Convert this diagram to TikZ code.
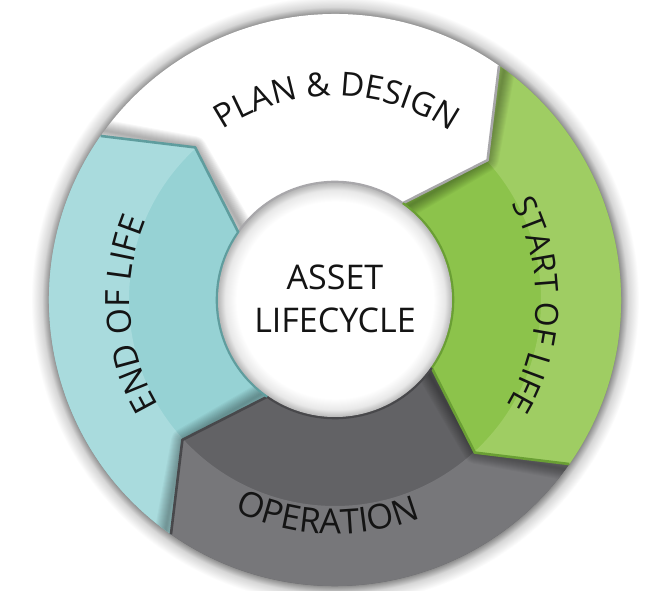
\documentclass[tikz,border=0pt]{standalone}
\usepackage{fontspec}
\setmainfont{Open Sans}
\usetikzlibrary{decorations.text}
\definecolor{tealL}{HTML}{A9DBDD}
\definecolor{tealD}{HTML}{96D2D4}
\definecolor{tealE}{HTML}{5F9D9E}
\definecolor{greenL}{HTML}{9FCD63}
\definecolor{greenD}{HTML}{8CC34B}
\definecolor{greenE}{HTML}{6A9F34}
\definecolor{grayL}{HTML}{77777A}
\definecolor{grayD}{HTML}{626265}
\definecolor{grayE}{HTML}{48484B}
\definecolor{whiteE}{HTML}{A8A7AA}
\definecolor{txt}{HTML}{141414}
\pgfdeclareradialshading{oshade}{\pgfpoint{0bp}{0bp}}{color(0bp)=(black!45); color(23.5bp)=(black!45); color(24.1bp)=(black!16); color(25bp)=(white); color(50bp)=(white)}
\pgfdeclareradialshading{cshade}{\pgfpoint{0bp}{0bp}}{color(0bp)=(white); color(21bp)=(white); color(23.5bp)=(black!9); color(25bp)=(black!28); color(50bp)=(black!28)}
\newcommand\ringfont{\fontsize{33}{40}\selectfont\color{txt}}
\newcommand\startlabelfont{\fontsize{32}{40}\selectfont\color{txt}}
\newcommand\eollabelfont{\fontsize{33.5}{40}\selectfont\color{txt}}
\newcommand\oplabelfont{\fontsize{34.5}{40}\selectfont\color{txt}}
\tikzset{
  segp/.style n args={4}{insert path={(#1:286pt) arc[start angle=#1, end angle=#2, radius=286pt] -- (#3:207pt) -- (#2:118pt) arc[start angle=#2, end angle=#1, radius=118pt] -- (#4:207pt) -- cycle}},
  shadowline/.style n args={2}{insert path={(#1:300pt) -- (#2:207pt) -- (#1:105pt)}},
  edgeline/.style={line width=2.6pt, line join=round, line cap=butt},
  softshadow/.style={line width=#1, black, opacity=0.03, line join=round},
  centertext/.style={font=\fontsize{34}{40}\selectfont, text=txt, anchor=base, inner sep=0pt}
}
\begin{document}
\begin{tikzpicture}
\fill[white] (-335pt,-291pt) rectangle (324pt,300pt);
\useasboundingbox (-335pt,-291pt) rectangle (324pt,300pt);
% outer drop shadow
\shade[shading=oshade] (0,0) circle[radius=304pt];
% white: 145 -> 55
\fill[white, segp={145}{55}{42.5}{132.5}];
% green: 55 -> -35
\fill[greenD, segp={55}{-35}{-47.5}{42.5}];
\begin{scope}
  \clip[segp={55}{-35}{-47.5}{42.5}];
  \fill[greenL, even odd rule] (0,0) circle[radius=292pt] (0,0) circle[radius=206pt];
\end{scope}
% gray: -35 -> -125
\fill[grayD, segp={-35}{-125}{-137.5}{-47.5}];
\begin{scope}
  \clip[segp={-35}{-125}{-137.5}{-47.5}];
  \fill[grayL, even odd rule] (0,0) circle[radius=292pt] (0,0) circle[radius=206pt];
\end{scope}
% teal: 235 -> 145
\fill[tealD, segp={235}{145}{132.5}{222.5}];
\begin{scope}
  \clip[segp={235}{145}{132.5}{222.5}];
  \fill[tealL, even odd rule] (0,0) circle[radius=292pt] (0,0) circle[radius=206pt];
\end{scope}
% soft shadows of each tip on the next segment
\begin{scope}
  \clip[segp={55}{-35}{-47.5}{42.5}];
  \foreach \w in {2,4,...,22} \draw[softshadow=\w pt, shadowline={55}{42.5}];
\end{scope}
\begin{scope}
  \clip[segp={-35}{-125}{-137.5}{-47.5}];
  \foreach \w in {2,4,...,22} \draw[softshadow=\w pt, shadowline={-35}{-47.5}];
\end{scope}
\begin{scope}
  \clip[segp={235}{145}{132.5}{222.5}];
  \foreach \w in {2,4,...,22} \draw[softshadow=\w pt, shadowline={-125}{-137.5}];
\end{scope}
\begin{scope}
  \clip[segp={145}{55}{42.5}{132.5}];
  \foreach \w in {2,4,...,22} \draw[softshadow=\w pt, shadowline={145}{132.5}];
\end{scope}
% edge lines
\draw[edgeline, whiteE] (55:286pt) -- (42.5:207pt) -- (55:118pt) arc[start angle=55, end angle=145, radius=118pt];
\draw[edgeline, greenE] (-35:286pt) -- (-47.5:207pt) -- (-35:118pt) arc[start angle=-35, end angle=55, radius=118pt];
\draw[edgeline, grayE] (-125:286pt) -- (-137.5:207pt) -- (-125:118pt) arc[start angle=-125, end angle=-35, radius=118pt];
\draw[edgeline, tealE] (145:286pt) -- (132.5:207pt) -- (145:118pt) arc[start angle=145, end angle=235, radius=118pt];
% center circle
\shade[shading=cshade] (0,0) circle[radius=117pt];
\node[centertext] (asset) at (0pt,10pt) {ASSET};
\node[centertext] (lifecycle) at (0pt,-33pt) {LIFECYCLE};
% ring labels
\path[decorate, decoration={text along path, text={|\ringfont|PLAN {\&} DESIGN}, text align=center}]
  (125:204pt) arc[start angle=125, end angle=54, radius=204pt];
\path[decorate, decoration={text along path, text={|\startlabelfont|START OF LIFE}, text align=center}]
  (31.5:201pt) arc[start angle=31.5, end angle=-34.5, radius=201pt];
\path[decorate, decoration={text along path, text={|\eollabelfont|END OF LIFE}, text align=center}]
  (215:205pt) arc[start angle=215, end angle=153, radius=205pt];
\path[decorate, decoration={text along path, text={|\oplabelfont|OPERATION}, text align=center}]
  (-120:234pt) arc[start angle=-120, end angle=-64, radius=234pt];
\end{tikzpicture}
\end{document}
